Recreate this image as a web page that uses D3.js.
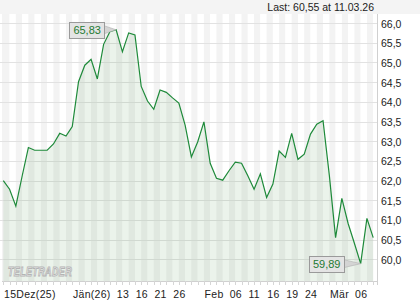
<!DOCTYPE html>
<html>
<head>
<meta charset="utf-8">
<script src="https://cdn.jsdelivr.net/npm/d3@7"></script>
<style>
  body { margin: 0; background: #fff; }
  svg { display: block; font-family: "Liberation Sans", Arial, sans-serif; }
</style>
</head>
<body>
<svg id="chart" width="420" height="300"></svg>
<script>
'use strict';
// daily closes, one per trading day, 15 Dec 2025 .. 11 Mar 2026
const closes = [
  62.00, 61.78, 61.35, 62.11, 62.84, 62.77, 62.77, 62.77, 62.93, 63.20,
  63.13, 63.37, 64.51, 64.93, 65.08, 64.58, 65.46, 65.78, 65.83, 65.27,
  65.75, 65.70, 64.39, 64.02, 63.81, 64.30, 64.24, 64.10, 63.97, 63.41,
  62.60, 62.98, 63.49, 62.44, 62.06, 62.01, 62.25, 62.47, 62.44, 62.12,
  61.78, 62.17, 61.57, 61.91, 62.75, 62.59, 63.20, 62.54, 62.67, 63.18,
  63.43, 63.52, 62.14, 60.55, 61.55, 60.91, 60.41, 59.89, 61.04, 60.55,
];
// x axis labels and the trading day index they sit on
const tickIdx = [0, 11, 18, 21, 24, 27, 32, 36, 39, 42, 45, 48, 52, 56];
const tickLabels = ['15Dez(25)', 'Jän(26)', '13', '16', '21', '26', 'Feb', '06', '11', '16', '19', '24', 'Mär', '06'];
const yTicks = [60, 60.5, 61, 61.5, 62, 62.5, 63, 63.5, 64, 64.5, 65, 65.5, 66];
const lastText = 'Last: 60,55 at 11.03.26';

const svg = d3.select('#chart');
const pL = 2, pR = 377, pT = 14, pB = 281;
const fmt = (v) => d3.format('.2f')(v).replace('.', ',');
const fmt1 = (v) => d3.format('.1f')(v).replace('.', ',');

const x = d3.scaleLinear().domain([0, closes.length - 1]).range([3.3, 373.2]);
const y = d3.scaleLinear().domain([59.45, 66.23]).range([pB, pT]);
const step = x(1) - x(0);

// top header strip
svg.append('rect')
  .attr('x', 0).attr('y', 0).attr('width', 420).attr('height', pT)
  .attr('fill', '#f4f4f4');
svg.append('text')
  .attr('x', 374).attr('y', 11)
  .attr('text-anchor', 'end')
  .attr('font-size', '10.5px')
  .attr('fill', '#222')
  .text(lastText);

// day stripes
svg.append('g')
  .selectAll('rect')
  .data(closes)
  .enter()
  .append('rect')
  .attr('x', (d, i) => (i === 0 ? pL : x(i)))
  .attr('y', pT)
  .attr('width', (d, i) => Math.min(x(i) + step, pR) - (i === 0 ? pL : x(i)))
  .attr('height', pB - pT)
  .attr('fill', (d, i) => (i % 2 === 0 ? '#f3f3f3' : '#ffffff'));

// horizontal grid
svg.append('g')
  .selectAll('line')
  .data(yTicks)
  .enter()
  .append('line')
  .attr('x1', 0).attr('x2', pR)
  .attr('y1', (d) => Math.round(y(d)) + 0.5)
  .attr('y2', (d) => Math.round(y(d)) + 0.5)
  .attr('stroke', '#e2e2e2');

// area + line
const area = d3.area().x((d, i) => x(i)).y0(pB).y1((d) => y(d));
const line = d3.line().x((d, i) => x(i)).y((d) => y(d));
svg.append('path')
  .datum(closes)
  .attr('d', area)
  .attr('fill', 'rgb(60,140,60)')
  .attr('fill-opacity', 0.1);

// watermark
svg.append('text')
  .attr('x', 8).attr('y', 276)
  .attr('font-size', '12px')
  .attr('font-weight', 'bold')
  .attr('font-style', 'italic')
  .attr('textLength', 64)
  .attr('lengthAdjust', 'spacingAndGlyphs')
  .attr('fill', '#ffffff')
  .attr('stroke', '#b4b4b4')
  .attr('stroke-width', 1)
  .attr('letter-spacing', '0.5px')
  .text('TELETRADER');

svg.append('path')
  .datum(closes)
  .attr('d', line)
  .attr('fill', 'none')
  .attr('stroke', '#1e8a3a')
  .attr('stroke-width', 1.2);

// axes lines
svg.append('line')
  .attr('x1', pR + 0.5).attr('x2', pR + 0.5)
  .attr('y1', pT).attr('y2', pB + 4)
  .attr('stroke', '#d0d0d0');
svg.append('line')
  .attr('x1', pL).attr('x2', pR)
  .attr('y1', pB + 0.5).attr('y2', pB + 0.5)
  .attr('stroke', '#d0d0d0');
svg.append('g')
  .selectAll('line')
  .data(closes)
  .enter()
  .append('line')
  .attr('x1', (d, i) => Math.round(x(i)) + 0.5)
  .attr('x2', (d, i) => Math.round(x(i)) + 0.5)
  .attr('y1', pB).attr('y2', pB + 4)
  .attr('stroke', '#d6d6d6');

// y labels
svg.append('g')
  .selectAll('text')
  .data(yTicks)
  .enter()
  .append('text')
  .attr('x', 381)
  .attr('y', (d) => y(d) + 4.5)
  .attr('font-size', '10.5px')
  .attr('fill', '#222')
  .text((d) => fmt1(d));

// x labels
svg.append('g')
  .selectAll('text')
  .data(tickIdx)
  .enter()
  .append('text')
  .attr('x', (d) => x(d) + 0.7)
  .attr('y', 297.5)
  .attr('font-size', '10.5px')
  .attr('letter-spacing', '0.3px')
  .attr('fill', '#222')
  .text((d, i) => tickLabels[i]);

// high / low callouts
const callout = (i, gap) => {
  const px = x(i), py = y(closes[i]);
  const w = 35, h = 16;
  const bx = px - gap - w, by = py - h / 2;
  const g = svg.append('g');
  g.append('path')
    .attr('d', `M${bx + w},${py - 4}L${px},${py}L${bx + w},${py + 4}Z`)
    .attr('fill', '#d4d4d4')
    .attr('stroke', '#b0b0b0')
    .attr('stroke-width', 0.6);
  g.append('rect')
    .attr('x', Math.round(bx) + 0.5).attr('y', Math.round(by) + 0.5)
    .attr('width', w).attr('height', h)
    .attr('fill', '#e4e4e4')
    .attr('stroke', '#9a9a9a');
  g.append('text')
    .attr('x', bx + w / 2 + 0.5).attr('y', by + 12.5)
    .attr('text-anchor', 'middle')
    .attr('font-size', '11px')
    .attr('fill', '#1e7a32')
    .text(fmt(closes[i]));
};
callout(d3.maxIndex(closes), 12);
callout(d3.minIndex(closes), 17);
</script>
</body>
</html>
